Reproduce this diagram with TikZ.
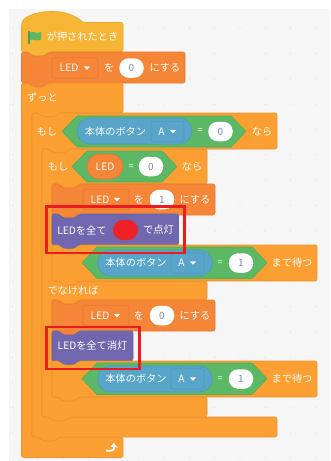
\documentclass[tikz,border=0pt]{standalone}
\usepackage{fontspec}
\setmainfont{Noto Sans CJK JP}
\definecolor{bgc}{HTML}{F6F6F6}
\definecolor{dotc}{HTML}{DDDDDD}
\definecolor{ctrl}{HTML}{FB9F33}
\definecolor{ctrlL}{HTML}{E8932E}
\definecolor{hatc}{HTML}{F6B534}
\definecolor{hatL}{HTML}{E8A830}
\definecolor{varc}{HTML}{F58537}
\definecolor{varL}{HTML}{E67B30}
\definecolor{purp}{HTML}{7067AE}
\definecolor{purpL}{HTML}{6A61A6}
\definecolor{grn}{HTML}{5CB864}
\definecolor{grnL}{HTML}{54AE5B}
\definecolor{blu}{HTML}{58A5C9}
\definecolor{bluL}{HTML}{4F9ABE}
\definecolor{numc}{HTML}{7F86A3}
\definecolor{redm}{HTML}{EE2226}
\definecolor{redr}{HTML}{EA1C20}
\tikzset{
  lbl/.style={text=white,font=\fontsize{10.2}{12}\selectfont,inner sep=0pt,anchor=center},
  wpill/.style={fill=white,rounded corners=9.5pt,minimum width=24.5pt,minimum height=19.5pt,inner sep=0pt,text=numc,font=\fontsize{10}{12}\selectfont},
  ddv/.style={fill=varc,draw=varL,line width=.7pt,rounded corners=2.5pt,minimum width=46pt,minimum height=20.5pt,inner sep=0pt},
  ddb/.style={fill=blu,draw=bluL,line width=.7pt,rounded corners=2.5pt,minimum width=33pt,minimum height=20.5pt,inner sep=0pt},
  bpill/.style={fill=blu,draw=bluL,line width=.6pt,rounded corners=13pt,minimum width=115pt,minimum height=26pt,inner sep=0pt},
  hexs/.style={fill=grn,draw=grnL,line width=.6pt},
  redbox/.style={draw=redr,line width=2.5pt},
  tri/.style={fill=white,rounded corners=.5pt}
}
% stack block: L T R B fill line
\newcommand\stackblk[6]{%
  \draw[fill=#5,draw=#6,line width=.6pt,rounded corners=2pt]
   (#1,#4)--(#1,#2)--({#1+7},#2)--({#1+11},{#2+4})--({#1+23},{#2+4})--({#1+27},#2)
   --(#3,#2)--(#3,#4)--({#1+27},#4)--({#1+23},{#4+4})--({#1+11},{#4+4})--({#1+7},#4)--cycle;}
% c block: L T R A1 A2 B
\newcommand\cblk[6]{%
  \draw[fill=ctrl,draw=ctrlL,line width=.6pt,rounded corners=2pt]
   (#1,#6)--(#1,#2)--({#1+7},#2)--({#1+11},{#2+4})--({#1+23},{#2+4})--({#1+27},#2)
   --(#3,#2)--(#3,#4)--({#1+37},#4)--({#1+33},{#4+4})--({#1+21},{#4+4})--({#1+17},#4)--({#1+10},#4)
   --({#1+10},#5)--({#1+17},#5)--({#1+21},{#5+4})--({#1+33},{#5+4})--({#1+37},#5)
   --(#3,#5)--(#3,#6)--({#1+27},#6)--({#1+23},{#6+4})--({#1+11},{#6+4})--({#1+7},#6)--cycle;}
\newcommand\hexa[4]{%
  \draw[hexs] (#1,{(#3+#4)/2})--({#1+15},#3)--({#2-15},#3)--(#2,{(#3+#4)/2})--({#2-15},#4)--({#1+15},#4)--cycle;}
\newcommand\downtri[2]{\fill[tri] ({#1-3.2},{#2-1.6})--({#1+3.2},{#2-1.6})--(#1,{#2+1.8})--cycle;}
% set-variable row
\newcommand\setrow[3]{%
  \stackblk{52}{#1}{215}{\the\numexpr#1+31\relax}{varc}{varL}
  \node[ddv] (dd#3) at (106,{#1+15.5}) {};
  \node[lbl] (led#3) at (100,{#1+15.5}) {LED};
  \downtri{117}{#1+15.5}
  \node[lbl] (wo#3) at (139,{#1+15.5}) {を};
  \node[wpill] (val#3) at (162,{#1+15.5}) {#2};
  \node[lbl] (ni#3) at (195,{#1+15.5}) {にする};}
% wait row
\newcommand\waitrow[3]{%
  \stackblk{52}{#1}{317}{\the\numexpr#1+36\relax}{ctrl}{ctrlL}
  \hexa{82}{267}{#1+2}{#1+33.5}
  \node[bpill] (bp#3) at (155,{#1+18}) {};
  \node[lbl] (bt#3) at (136,{#1+18}) {本体のボタン};
  \node[ddb] (bd#3) at (187.5,{#1+18}) {};
  \node[lbl] (a#3) at (181.5,{#1+18}) {A};
  \downtri{193}{#1+18}
  \node[lbl,font=\fontsize{9}{11}\selectfont] (eq#3) at (220,{#1+18}) {=};
  \node[wpill] (v#3) at (241,{#1+18}) {#2};
  \node[lbl] (md#3) at (292,{#1+18}) {まで待つ};}
\begin{document}
\begin{tikzpicture}[x=1pt,y=-1pt]
\useasboundingbox (0,0) rectangle (330,461);
\fill[white] (0,0) rectangle (330,461);
\fill[bgc] (9,9) rectangle (330,461);
\foreach \i in {0,...,12}{\foreach \j in {0,...,17}{
  \fill[dotc] ({12.3+25.3*\i},{28.3+25.3*\j}) circle (.6);}}
% hat
\draw[fill=hatc,draw=hatL,line width=.6pt,rounded corners=2pt]
  (21.5,52)--(21.5,24) .. controls (24,16) and (38,11.5) .. (52,11.5) .. controls (66,11.5) and (76,16) .. (83,22.5)
  --(123,22.5)--(123,52)--(48.5,52)--(44.5,56)--(32.5,56)--(28.5,52)--cycle;
% flag
\fill[grn!85!black] (28.2,31) rectangle (30.2,44);
\fill[grn] (30,32.5) .. controls (33,30.5) and (36,34.5) .. (41,32) -- (41,39.5) .. controls (36,42) and (33,38) .. (30,40) -- cycle;
\node[lbl] (hat) at (82.5,37) {が押されたとき};
% set LED 0
\stackblk{21.5}{52}{185}{83}{varc}{varL}
\node[ddv] (dd0) at (75,68) {};
\node[lbl] (led0) at (69,68) {LED};
\downtri{87}{68}
\node[lbl] (wo0) at (109,68) {を};
\node[wpill] (val0) at (131.5,68) {0};
\node[lbl] (ni0) at (165,68) {にする};
% forever
\draw[fill=ctrl,draw=ctrlL,line width=.6pt,rounded corners=2pt]
  (21.5,457.5)--(21.5,83)--(28.5,83)--(32.5,87)--(44.5,87)--(48.5,83)--(123,83)--(123,113)
  --(59,113)--(55,117)--(43,117)--(39,113)--(32,113)--(32,437)--(39,437)--(43,441)--(55,441)--(59,437)
  --(123,437)--(123,457.5)--cycle;
\node[lbl] (forever) at (42.5,98) {ずっと};
% loop arrow
\draw[white,line width=1.8pt] (106,450.5) .. controls (111,451.5) and (114.5,450.5) .. (114.5,446.5);
\fill[white] (113.6,443) -- (117.8,447.6) -- (110.8,446.8) -- cycle;
% if 1
\cblk{32}{113}{277}{149}{417}{437}
\node[lbl] (if1) at (47,131.5) {もし};
\hexa{62}{246}{116}{147}
\node[bpill] (bp1) at (134.5,131) {};
\node[lbl] (bt1) at (115.5,131.5) {本体のボタン};
\node[ddb] (bd1) at (167.5,131.5) {};
\node[lbl] (a1) at (161.5,131.5) {A};
\downtri{173}{131.5}
\node[lbl,font=\fontsize{9}{11}\selectfont] (eq1) at (200,131.5) {=};
\node[wpill] (v1) at (220.5,131.5) {0};
\node[lbl] (nara1) at (262,131.5) {なら};
% if 2
\draw[fill=ctrl,draw=ctrlL,line width=.6pt,rounded corners=2pt]
  (42,417)--(42,149)--(49,149)--(53,153)--(65,153)--(69,149)--(207,149)--(207,184)
  --(79,184)--(75,188)--(63,188)--(59,184)--(52,184)--(52,281)--(59,281)--(63,285)--(75,285)--(79,281)
  --(207,281)--(207,300)--(79,300)--(75,304)--(63,304)--(59,300)--(52,300)--(52,397)--(59,397)--(63,401)--(75,401)--(79,397)
  --(207,397)--(207,417)--(69,417)--(65,421)--(53,421)--(49,417)--cycle;
\node[lbl] (if2) at (58,167) {もし};
\hexa{72}{177}{151}{182}
\node[fill=varc,draw=varL,line width=.6pt,rounded corners=12.5pt,minimum width=36pt,minimum height=25pt,inner sep=0pt] (ledp) at (105,166.5) {};
\node[lbl] (ledt) at (105,166.5) {LED};
\node[lbl,font=\fontsize{9}{11}\selectfont] (eq2) at (131,167) {=};
\node[wpill] (v2) at (151,166.5) {0};
\node[lbl] (nara2) at (192,167) {なら};
\node[lbl] (else) at (73,291) {でなければ};
% then branch
\setrow{184}{1}{a}
\stackblk{52}{214}{178.5}{245}{purp}{purpL}
\node[lbl] (on) at (82,230) {LEDを全て};
\node[fill=redm,rounded corners=10pt,minimum width=25pt,minimum height=20pt,inner sep=0pt] (redc) at (125.5,230) {};
\node[lbl] (ont) at (158.5,230) {で点灯};
\waitrow{245}{1}{a}
% else branch
\setrow{300}{0}{b}
\stackblk{52}{331}{133}{361}{purp}{purpL}
\node[lbl] (off) at (92.5,346) {LEDを全て消灯};
\waitrow{361}{1}{b}
% red frames
\draw[redbox] (46.5,206.5) rectangle (184.5,253);
\draw[redbox] (46.5,327) rectangle (139.5,369);
\end{tikzpicture}
\end{document}
